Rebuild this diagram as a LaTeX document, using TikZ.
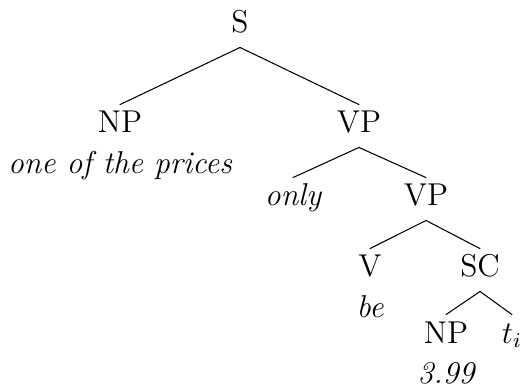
\documentclass[tikz,border=0pt,12pt]{standalone}
\usetikzlibrary{positioning}

\begin{document}
\begin{tikzpicture}[
    x=0.3802pt, y=-0.3802pt,
    node distance=1.3pt,
    cat/.style={anchor=base, inner sep=2.2pt, text height=8.4pt, text depth=3.1pt},
    word/.style={inner sep=0pt, text height=8.4pt, text depth=0pt, font=\itshape},
    branch/.style={thin, line cap=round}
]
\useasboundingbox (0,0) rectangle (523,384);
% categories
\node[cat] (s)   at (240,33)  {S};
\node[cat] (np1) at (120,133) {NP};
\node[cat] (vp1) at (359,133) {VP};
\node[cat, font=\itshape] (only) at (293,206) {only};
\node[cat] (vp2) at (426,206) {VP};
\node[cat] (v)   at (370,277) {V};
\node[cat] (sc)  at (480,277) {SC};
\node[cat] (np2) at (446,343) {NP};
\node[cat] (tr)  at (512,343) {$t_i$};
% words
\node[word, below=of np1] (w1) {one of the prices};
\node[word, below=of v]   (w2) {be};
\node[word, below=of np2] (w3) {3.99};
% branches
\draw[branch] (s.south) -- (np1.north);
\draw[branch] (s.south) -- (vp1.north);
\draw[branch] (vp1.south) -- (only.north);
\draw[branch] (vp1.south) -- (vp2.north);
\draw[branch] (vp2.south) -- (v.north);
\draw[branch] (vp2.south) -- (sc.north);
\draw[branch] (sc.south) -- (np2.north);
\draw[branch] (sc.south) -- (tr.north);
\end{tikzpicture}
\end{document}
